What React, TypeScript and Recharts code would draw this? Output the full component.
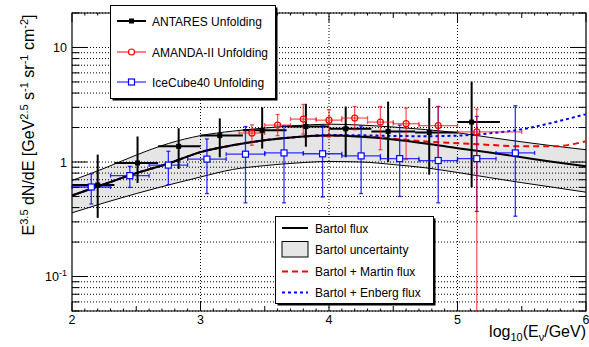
import React from 'react';
import {
  ComposedChart, Line, Area, Scatter, XAxis, YAxis, CartesianGrid,
  ErrorBar, ReferenceLine, ReferenceArea,
} from 'recharts';

const CHART_W = 589;
const CHART_H = 347;
const MARGIN = { top: 13, right: 3, bottom: 0, left: 0 };
const Y_AXIS_W = 72;
const X_AXIS_H = 36;
const PLOT_W = CHART_W - Y_AXIS_W - MARGIN.right - MARGIN.left;
const PLOT_H = CHART_H - MARGIN.top - X_AXIS_H - MARGIN.bottom;
const FONT = '"Liberation Sans", Arial, Helvetica, sans-serif';

// ---------- model curves ----------
const CURVE_X = [2, 2.25, 2.5, 2.75, 3, 3.25, 3.5, 3.75, 4, 4.25, 4.5, 4.75, 5, 5.25, 5.5, 5.75, 6];
const BARTOL = [0.51, 0.64, 0.8, 0.97, 1.22, 1.4, 1.55, 1.65, 1.7, 1.66, 1.57, 1.45, 1.32, 1.21, 1.1, 1.0, 0.916];
const BAND_HI = [0.69, 0.88, 1.15, 1.45, 1.7, 1.86, 1.98, 2.08, 2.14, 2.1, 2.02, 1.92, 1.8, 1.64, 1.5, 1.38, 1.28];
const BAND_LO = [0.36, 0.44, 0.53, 0.63, 0.74, 0.86, 0.93, 0.98, 1.01, 1.0, 0.95, 0.89, 0.81, 0.73, 0.66, 0.6, 0.545];
const MARTIN = [0.51, 0.64, 0.8, 0.97, 1.22, 1.4, 1.55, 1.65, 1.7, 1.68, 1.6, 1.51, 1.46, 1.41, 1.37, 1.37, 1.52];
const ENBERG = [0.51, 0.64, 0.8, 0.97, 1.22, 1.4, 1.55, 1.65, 1.72, 1.71, 1.69, 1.68, 1.7, 1.78, 1.93, 2.22, 2.62];

// ---------- ANTARES unfolding ----------
const ANT_X = [2.2, 2.51, 2.83, 3.15, 3.48, 3.82, 4.13, 4.46, 4.78, 5.11];
const ANT_Y = [0.63, 0.98, 1.37, 1.7, 1.89, 2.04, 1.95, 1.85, 1.81, 2.23];
const ANT_YHI = [1.16, 1.67, 1.97, 2.4, 3.0, 3.22, 3.05, 3.37, 3.61, 5.04];
const ANT_YLO = [0.325, 0.655, 0.87, 1.1, 1.31, 1.36, 1.1, 1.0, 0.775, 0.6];
const ANT_XLO = [2.0, 2.33, 2.67, 3.0, 3.33, 3.67, 4.0, 4.33, 4.67, 5.0];
const ANT_XHI = [2.33, 2.67, 3.0, 3.33, 3.67, 4.0, 4.33, 4.67, 5.0, 5.33];

// ---------- AMANDA-II unfolding ----------
const AMA_X = [3.4, 3.6, 3.8, 4.0, 4.2, 4.4, 4.6, 4.85, 5.15];
const AMA_Y = [1.79, 2.1, 2.37, 2.32, 2.42, 2.23, 2.16, 2.08, 1.83];
const AMA_YHI = [2.11, 2.6, 3.18, 2.86, 3.05, 3.05, 2.96, 3.05, 2.9];
const AMA_YLO = [1.4, 1.7, 1.75, 1.65, 1.91, 1.28, 1.05, 1.05, 0.05];
const AMA_XLO = [3.3, 3.5, 3.7, 3.9, 4.1, 4.3, 4.5, 4.7, 5.0];
const AMA_XHI = [3.5, 3.7, 3.9, 4.1, 4.3, 4.5, 4.7, 5.0, 5.5];

// ---------- IceCube40 unfolding ----------
const IC_X = [2.15, 2.45, 2.75, 3.05, 3.35, 3.65, 3.95, 4.25, 4.55, 4.85, 5.15, 5.45];
const IC_Y = [0.605, 0.76, 0.94, 1.06, 1.17, 1.2, 1.18, 1.13, 1.07, 1.03, 1.07, 1.2];
const IC_YHI = [0.79, 0.915, 1.24, 1.59, 2.04, 2.07, 2.07, 2.06, 2.1, 3.05, 2.5, 3.1];
const IC_YLO = [0.43, 0.6, 0.634, 0.53, 0.44, 0.44, 0.495, 0.53, 0.5, 0.44, 0.37, 0.336];
const IC_XLO = [2.0, 2.3, 2.6, 2.9, 3.2, 3.5, 3.8, 4.1, 4.4, 4.7, 5.0, 5.3];
const IC_XHI = [2.3, 2.6, 2.9, 3.2, 3.5, 3.8, 4.1, 4.4, 4.7, 5.0, 5.3, 5.6];

// ---------- axes ----------
const X_DOMAIN: [number, number] = [2, 6];
const Y_DOMAIN: [number, number] = [0.05, 20];
const X_LABELS = [2, 3, 4, 5, 6];
const Y_LABELS = [0.1, 1, 10];
const Y_TICKS = [0.05, 0.06, 0.07, 0.08, 0.09, 0.1, 0.2, 0.3, 0.4, 0.5, 0.6, 0.7, 0.8, 0.9, 1, 2, 3, 4, 5, 6, 7, 8, 9, 10, 20];
const X_TICKS = Array.from({ length: 41 }, (_, i) => Math.round((2 + i * 0.1) * 10) / 10);
const X_GRID = [3, 4, 5];

const curve = (vals: number[]) => CURVE_X.map((x, i) => ({ x, y: vals[i] }));
const bandData = CURVE_X.map((x, i) => ({ x, band: [BAND_LO[i], BAND_HI[i]] }));
const points = (xs: number[], ys: number[], xlo: number[], xhi: number[], ylo: number[], yhi: number[]) =>
  xs.map((x, i) => ({
    x,
    y: ys[i],
    ex: [x - xlo[i], xhi[i] - x],
    ey: [ys[i] - ylo[i], yhi[i] - ys[i]],
  }));

const antData = points(ANT_X, ANT_Y, ANT_XLO, ANT_XHI, ANT_YLO, ANT_YHI);
const amaData = points(AMA_X, AMA_Y, AMA_XLO, AMA_XHI, AMA_YLO, AMA_YHI);
const icData = points(IC_X, IC_Y, IC_XLO, IC_XHI, IC_YLO, IC_YHI);

const near = (a: number, b: number) => Math.abs(a - b) < 1e-9;

function yLabel(v: number) {
  if (near(v, 0.1)) return (<>10<tspan dy={-5} fontSize={9}>-1</tspan></>);
  return String(v);
}

function YTick(props: any) {
  const { x, y, payload } = props;
  const v = payload.value;
  const major = Y_LABELS.some((m) => near(m, v));
  const len = major ? 15 : 7.5;
  return (
    <g>
      <line x1={x} x2={x + len} y1={y} y2={y} stroke="#000" strokeWidth={1} />
      <line x1={x + PLOT_W} x2={x + PLOT_W - len} y1={y} y2={y} stroke="#000" strokeWidth={1} />
      {major && (
        <text x={x - 5} y={y + 4.5} textAnchor="end" fontSize={12.5} fontFamily={FONT} fill="#000">
          {yLabel(v)}
        </text>
      )}
    </g>
  );
}

function XTick(props: any) {
  const { x, y, payload } = props;
  const v = payload.value;
  const major = X_LABELS.some((m) => near(m, v));
  const half = near(v * 2, Math.round(v * 2));
  const len = major ? 9 : half ? 5 : 2.5;
  return (
    <g>
      <line x1={x} x2={x} y1={y} y2={y - len} stroke="#000" strokeWidth={1} />
      <line x1={x} x2={x} y1={y - PLOT_H} y2={y - PLOT_H + len} stroke="#000" strokeWidth={1} />
      {major && (
        <text x={x} y={y + 13} textAnchor="middle" fontSize={12.5} fontFamily={FONT} fill="#000">
          {String(v)}
        </text>
      )}
    </g>
  );
}

const SquareFilled = (p: any) => (
  <rect x={p.cx - 2.5} y={p.cy - 2.5} width={5} height={5} fill="#000" />
);
const CircleOpen = (p: any) => (
  <circle cx={p.cx} cy={p.cy} r={3} fill="none" stroke="#f00" strokeWidth={1.2} />
);
const SquareOpen = (p: any) => (
  <rect x={p.cx - 3} y={p.cy - 3} width={6} height={6} fill="#fff" stroke="#00f" strokeWidth={1.2} />
);

function Overlay() {
  const t = { fontFamily: FONT, fill: '#000' } as const;
  return (
    <svg width={CHART_W} height={CHART_H} style={{ position: 'absolute', left: 0, top: 0, pointerEvents: 'none' }}>
      {/* upper legend */}
      <rect x={112.5} y={7.5} width={165} height={93} fill="#000" />
      <rect x={110.5} y={5.5} width={165} height={93} fill="#fff" stroke="#000" strokeWidth={1} />
      <line x1={117} x2={146} y1={21} y2={21} stroke="#000" strokeWidth={2} />
      <rect x={129} y={18.5} width={5} height={5} fill="#000" />
      <text x={152} y={25.5} fontSize={12} {...t}>ANTARES Unfolding</text>
      <line x1={117} x2={146} y1={52} y2={52} stroke="#f00" strokeWidth={1} />
      <circle cx={131.5} cy={52} r={3} fill="#fff" stroke="#f00" strokeWidth={1.2} />
      <text x={152} y={56.5} fontSize={12} {...t}>AMANDA-II Unfolding</text>
      <line x1={117} x2={146} y1={82} y2={82} stroke="#00f" strokeWidth={1} />
      <rect x={128.5} y={79} width={6} height={6} fill="#fff" stroke="#00f" strokeWidth={1.2} />
      <text x={152} y={86.5} fontSize={12} {...t}>IceCube40 Unfolding</text>

      {/* lower legend */}
      <rect x={277.5} y={218.5} width={158} height={87} fill="#000" />
      <rect x={275.5} y={216.5} width={158} height={87} fill="#fff" stroke="#000" strokeWidth={1} />
      <line x1={282} x2={308} y1={228} y2={228} stroke="#000" strokeWidth={2} />
      <text x={315} y={232.5} fontSize={12} {...t}>Bartol flux</text>
      <rect x={282} y={241.5} width={26} height={15.5} fill="#e6e6e6" stroke="#000" strokeWidth={1} />
      <text x={315} y={253.5} fontSize={12} {...t}>Bartol uncertainty</text>
      <line x1={282} x2={308} y1={271.5} y2={271.5} stroke="#f00" strokeWidth={2} strokeDasharray="6 4" />
      <text x={315} y={276} fontSize={12} {...t}>Bartol + Martin flux</text>
      <line x1={282} x2={308} y1={292.5} y2={292.5} stroke="#00f" strokeWidth={2} strokeDasharray="3 3" />
      <text x={315} y={297} fontSize={12} {...t}>Bartol + Enberg flux</text>

      {/* axis titles */}
      <text transform="translate(34,125) rotate(-90)" textAnchor="middle" fontSize={16} {...t}>
        E<tspan dy={-6} fontSize={11}>3.5</tspan>
        <tspan dy={6}>{' dN/dE [GeV'}</tspan>
        <tspan dy={-6} fontSize={11}>2.5</tspan>
        <tspan dy={6}>{' s'}</tspan>
        <tspan dy={-6} fontSize={11}>-1</tspan>
        <tspan dy={6}>{' sr'}</tspan>
        <tspan dy={-6} fontSize={11}>-1</tspan>
        <tspan dy={6}>{' cm'}</tspan>
        <tspan dy={-6} fontSize={11}>-2</tspan>
        <tspan dy={6}>]</tspan>
      </text>
      <text x={586} y={337} textAnchor="end" fontSize={16} {...t}>
        log<tspan dy={4} fontSize={11}>10</tspan>
        <tspan dy={-4}>(E</tspan>
        <tspan dy={4} fontSize={11}>ν</tspan>
        <tspan dy={-4}>/GeV)</tspan>
      </text>
    </svg>
  );
}

export default function App() {
  return (
    <div style={{ position: 'absolute', left: 0, top: 0, width: CHART_W, height: CHART_H, background: '#fff' }}>
      <ComposedChart width={CHART_W} height={CHART_H} margin={MARGIN}>
        <CartesianGrid vertical={false} stroke="#000" strokeDasharray="1 2" strokeWidth={1} />
        <XAxis
          type="number" dataKey="x" domain={X_DOMAIN} ticks={X_TICKS} interval={0}
          allowDataOverflow height={X_AXIS_H} tickSize={0} tickMargin={0}
          axisLine={false} tickLine={false} tick={<XTick />}
        />
        <YAxis
          type="number" scale="log" domain={Y_DOMAIN} ticks={Y_TICKS} interval={0}
          allowDataOverflow width={Y_AXIS_W} tickSize={0} tickMargin={0}
          axisLine={false} tickLine={false} tick={<YTick />}
        />
        {X_GRID.map((g) => (
          <ReferenceLine key={g} x={g} stroke="#000" strokeDasharray="1 2" strokeWidth={1} />
        ))}
        <Area data={bandData} dataKey="band" type="monotone" stroke="none" fill="#000" fillOpacity={0.1} isAnimationActive={false} />
        <Line data={curve(BAND_HI)} dataKey="y" type="monotone" stroke="#000" strokeWidth={1} dot={false} activeDot={false} isAnimationActive={false} />
        <Line data={curve(BAND_LO)} dataKey="y" type="monotone" stroke="#000" strokeWidth={1} dot={false} activeDot={false} isAnimationActive={false} />
        <Line data={curve(MARTIN)} dataKey="y" type="monotone" stroke="#f00" strokeWidth={2} strokeDasharray="6 4" dot={false} activeDot={false} isAnimationActive={false} />
        <Line data={curve(ENBERG)} dataKey="y" type="monotone" stroke="#00f" strokeWidth={2} strokeDasharray="3 3" dot={false} activeDot={false} isAnimationActive={false} />
        <Line data={curve(BARTOL)} dataKey="y" type="monotone" stroke="#000" strokeWidth={2} dot={false} activeDot={false} isAnimationActive={false} />
        <Scatter data={antData} dataKey="y" shape={SquareFilled} isAnimationActive={false}>
          <ErrorBar direction="x" dataKey="ex" width={0} stroke="#000" strokeWidth={2} />
          <ErrorBar direction="y" dataKey="ey" width={0} stroke="#000" strokeWidth={2} />
        </Scatter>
        <Scatter data={icData} dataKey="y" shape={SquareOpen} isAnimationActive={false}>
          <ErrorBar direction="x" dataKey="ex" width={2} stroke="#00f" strokeOpacity={0.8} strokeWidth={1.3} />
          <ErrorBar direction="y" dataKey="ey" width={2} stroke="#00f" strokeOpacity={0.8} strokeWidth={1.3} />
        </Scatter>
        <Scatter data={amaData} dataKey="y" shape={CircleOpen} isAnimationActive={false}>
          <ErrorBar direction="x" dataKey="ex" width={2} stroke="#f00" strokeOpacity={0.65} strokeWidth={1.3} />
          <ErrorBar direction="y" dataKey="ey" width={2} stroke="#f00" strokeOpacity={0.65} strokeWidth={1.3} />
        </Scatter>
        <ReferenceArea x1={2} x2={6} y1={0.05} y2={20} fill="none" stroke="#000" strokeWidth={1.2} ifOverflow="visible" />
      </ComposedChart>
      <Overlay />
    </div>
  );
}
